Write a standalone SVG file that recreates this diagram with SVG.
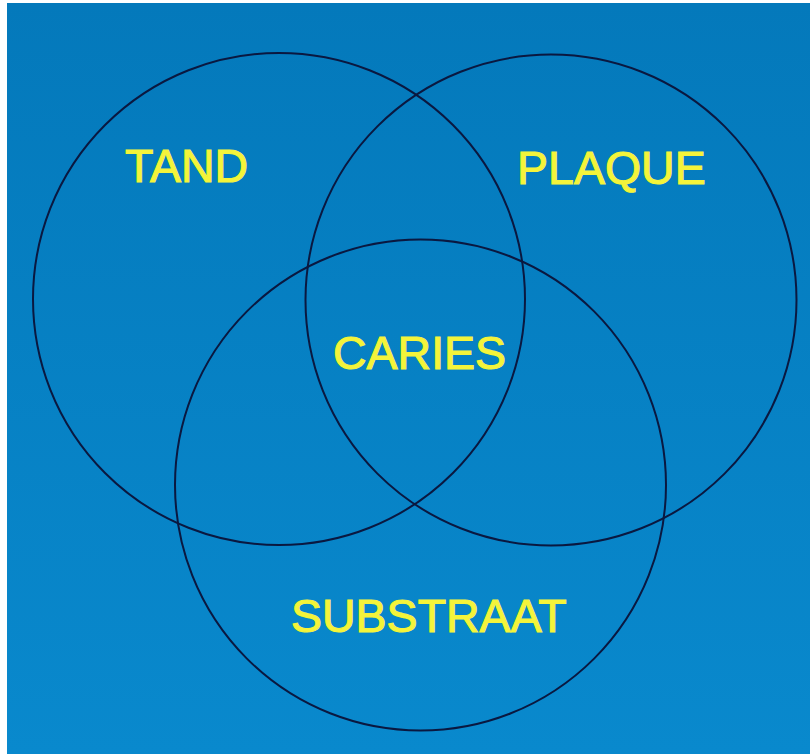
<svg xmlns="http://www.w3.org/2000/svg" width="810" height="754" viewBox="0 0 810 754">
  <defs>
    <linearGradient id="bg" x1="0" y1="0" x2="0" y2="1">
      <stop offset="0" stop-color="#0479BB"/>
      <stop offset="1" stop-color="#0989CD"/>
    </linearGradient>
    <style>
      .ring { fill: none; stroke: #0A1840; stroke-width: 2; }
      .lbl { font-family: "Liberation Sans", Arial, sans-serif; font-size: 46.5px; fill: #F4F43A; stroke: #F4F43A; stroke-width: 1.1; }
    </style>
  </defs>
  <rect x="0" y="0" width="810" height="754" fill="#FFFFFF"/>
  <rect x="7" y="3" width="803" height="751" fill="url(#bg)"/>
  <g id="tand">
    <circle class="ring" cx="279" cy="299" r="246"/>
    <text class="lbl" x="125" y="182">TAND</text>
  </g>
  <g id="plaque">
    <circle class="ring" cx="551" cy="300" r="245.5"/>
    <text class="lbl" x="517" y="184">PLAQUE</text>
  </g>
  <g id="substraat">
    <circle class="ring" cx="420.5" cy="485" r="245.5"/>
    <text class="lbl" x="291" y="632">SUBSTRAAT</text>
  </g>
  <g id="caries">
    <text class="lbl" x="333" y="369">CARIES</text>
  </g>
</svg>
